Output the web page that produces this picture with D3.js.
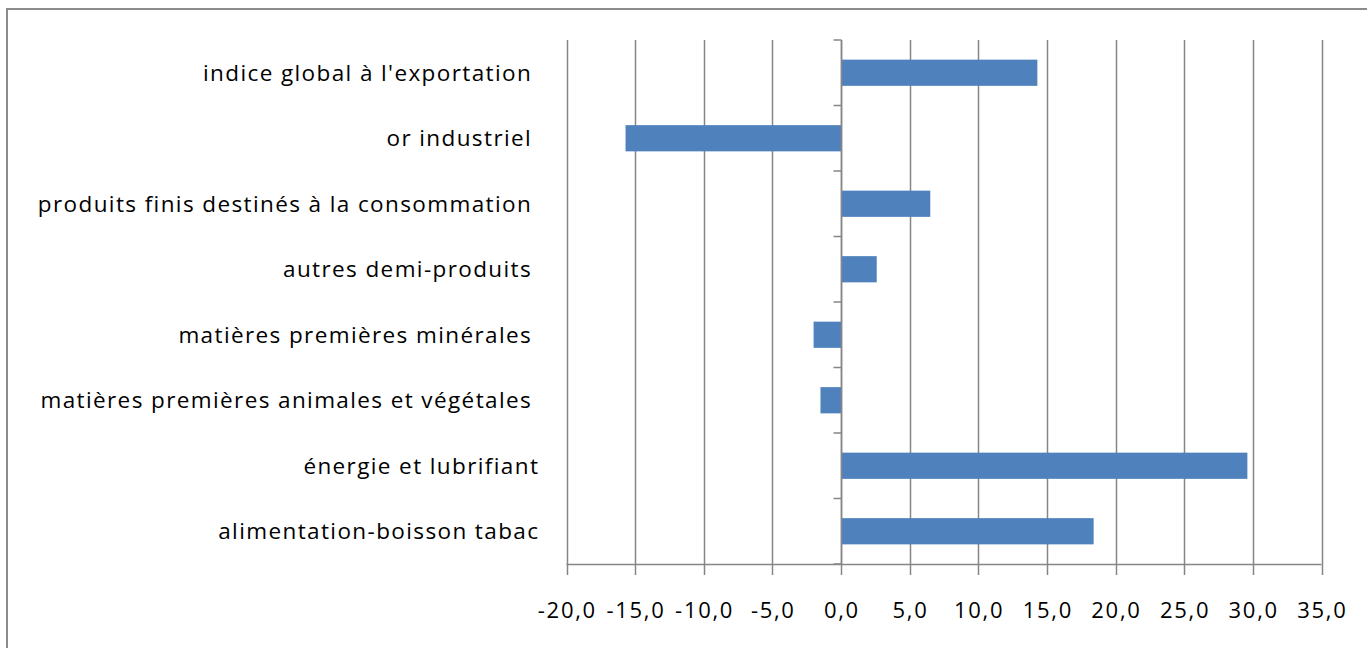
<!DOCTYPE html>
<html><head><meta charset="utf-8">
<script src="https://cdn.jsdelivr.net/npm/d3@7"></script>
<style>body{margin:0;background:#fff}svg{display:block}text{white-space:pre;font-variant-ligatures:none;font-feature-settings:"liga" 0}</style>
</head><body>
<script>
const categories = ["indice global à l'exportation ", "or industriel ", "produits finis destinés à la consommation ", "autres demi-produits ", "matières premières minérales ", "matières premières animales et végétales ", "énergie et lubrifiant", "alimentation-boisson tabac"];
const values = [14.3, -15.7, 6.5, 2.6, -2.0, -1.5, 29.6, 18.4];
const xTicks = [-20, -15, -10, -5, 0, 5, 10, 15, 20, 25, 30, 35];

const W = 1367, H = 648;
const svg = d3.select("body").append("svg").attr("width", W).attr("height", H);
const font = "'Open Sans', Lato, sans-serif";
const grid = "#868686";

// frame
svg.append("path").attr("d", "M7,660 V9 H1380").attr("fill", "none").attr("stroke", "#8c8c8c").attr("stroke-width", 2);

const x = d3.scaleLinear().domain([-20, 35]).range([566.5, 1321.5]);
const y = d3.scaleBand().domain(categories).range([40, 564]).paddingInner(0.6).paddingOuter(0.3);
const band = d3.scaleBand().domain(categories).range([40, 564]);

// gridlines
svg.append("g").selectAll("line").data(xTicks).join("line")
  .attr("x1", d => Math.round(x(d)) + 0.5).attr("x2", d => Math.round(x(d)) + 0.5)
  .attr("y1", 40).attr("y2", 575)
  .attr("stroke", grid).attr("stroke-width", 1.5);

// x axis line
svg.append("line").attr("x1", x(-20)).attr("x2", x(35)).attr("y1", 564.5).attr("y2", 564.5)
  .attr("stroke", grid).attr("stroke-width", 1.5);

// bars
svg.append("g").selectAll("rect").data(values).join("rect")
  .attr("x", (d) => x(Math.min(0, d)))
  .attr("width", d => Math.abs(x(d) - x(0)))
  .attr("y", (d, i) => y(categories[i]))
  .attr("height", y.bandwidth())
  .attr("fill", "#4F81BD");

// y axis line and ticks
const x0 = Math.round(x(0)) + 0.5;
svg.append("line").attr("x1", x0).attr("x2", x0).attr("y1", 40).attr("y2", 564).attr("stroke", grid).attr("stroke-width", 1.5);
const yTickPos = categories.map(c => band(c)).concat([564]);
svg.append("g").selectAll("line").data(yTickPos).join("line")
  .attr("x1", x0 - 8).attr("x2", x0).attr("y1", d => d).attr("y2", d => d)
  .attr("stroke", grid).attr("stroke-width", 1.5);

// category labels
const catText = svg.append("g").selectAll("text").data(categories).join("text")
  .attr("y", c => band(c) + band.bandwidth() / 2)
  .attr("dy", "0.36em").attr("text-anchor", "end")
  .attr("font-family", font).attr("font-size", 22.5).attr("fill", "#000")
  .text(c => c);
{
  const n = catText.nodes()[6];
  const w = n.getComputedTextLength();
  const ls = Math.max(0, (236 - w) / categories[6].length);
  catText.attr("letter-spacing", ls + "px").attr("x", 538 + ls);
}

// x tick labels
const tickText = svg.append("g").selectAll("text").data(xTicks).join("text")
  .attr("y", 610).attr("dy", "0.36em").attr("text-anchor", "middle")
  .attr("font-family", font).attr("font-size", 22).attr("fill", "#000")
  .text(d => d3.format(".1f")(d).replace(".", ",").replace("−", "-"));
{
  const n = tickText.nodes()[0];
  const w = n.getComputedTextLength();
  const ls = Math.max(0, (59 - w) / 5);
  tickText.attr("letter-spacing", ls + "px").attr("x", d => x(d) + ls / 2);
}
</script>
</body></html>
